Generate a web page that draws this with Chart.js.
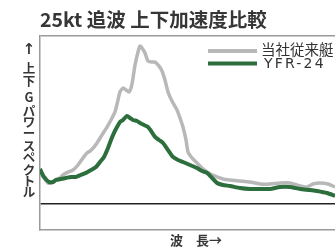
<!DOCTYPE html>
<html><head><meta charset="utf-8">
<script src="https://cdn.jsdelivr.net/npm/chart.js@4/dist/chart.umd.min.js"></script>
<style>html,body{margin:0;padding:0;background:#fff;overflow:hidden}canvas{display:block}</style>
</head><body>
<canvas id="c" width="335" height="247"></canvas>
<script>
const chartTitle = '25kt 追波 上下加速度比較';
const seriesNames = ['当社従来艇', 'YFR-24'];
const yAxisChars = ['↑', '上', '下', 'G', 'パ', 'ワ', 'ー', 'ス', 'ペ', 'ク', 'ト', 'ル'];
const xAxisLabel = '波　長→';

const grayX = [0,0.8,1.6,2.4,3.2,4.0,4.6,5.6,6.6,7.6,8.6,9.4,10.0,10.8,11.4,12.4,13.4,14.2,15.0,15.6,16.0,16.6,17.2,17.8,18.4,19.0,19.6,20.0,20.4,21.0,21.6,22.4,23.0,23.8,24.4,25.0,25.6,26.4,27.4,28.0,28.6,29.2,29.6,30.4,31.4,32.4,33.4,34.4,35.4,36.6,38.0,40.0,42.0,44.0,46.0,48.0,50.0,51.4,53.4,54.6,56.0,57.6,59.0];
const grayY = [19.0,15.5,12.5,12.5,14.3,15.5,17.3,19.0,20.2,23.2,27.4,30.4,31.5,33.9,36.3,41.1,45.8,50.0,54.8,61.9,66.7,69.0,67.9,66.7,71.4,82.7,90.5,94.0,92.9,89.9,85.1,84.5,84.5,82.1,79.2,73.8,66.7,61.3,56.0,51.2,45.8,38.1,31.0,27.4,24.4,21.4,19.0,17.3,16.1,14.9,14.3,13.7,13.1,11.9,11.9,12.5,12.5,11.3,10.1,11.9,12.5,11.9,10.1];

const greenX = [0,0.8,1.8,2.6,3.2,4.2,5.2,6.2,7.2,8.2,9.2,10.2,11.2,12.0,12.8,13.6,14.2,14.8,15.4,16.0,16.6,17.4,18.0,18.6,19.4,20.0,20.8,21.6,22.2,23.0,23.8,24.6,25.6,26.6,27.6,28.6,30.0,31.4,32.4,33.4,34.4,35.4,36.6,38.0,40.0,42.0,44.0,46.0,48.0,50.0,52.0,54.0,55.4,57.4,59.0];
const greenY = [20.8,16.1,13.1,13.1,14.3,14.9,15.5,16.1,16.1,17.3,18.5,20.2,22.0,25.0,28.0,33.3,38.1,42.3,45.8,48.8,50.0,52.4,51.2,50.0,49.4,48.2,47.0,45.8,43.5,39.9,38.1,36.3,32.1,28.0,26.2,25.0,23.2,21.4,19.6,18.5,15.5,12.5,11.3,10.7,9.5,8.9,8.9,8.9,10.1,10.1,8.9,8.3,7.7,6.5,4.8];

const toPts = (xs, ys) => xs.map((x, i) => ({x: x, y: ys[i]}));

const textPlugin = {
  id: 'texts',
  afterDraw(chart) {
    const ctx = chart.ctx;
    ctx.save();
    ctx.fillStyle = '#363636';
    ctx.textBaseline = 'middle';
    ctx.textAlign = 'left';
    ctx.font = 'bold 19.5px "Noto Sans CJK JP"';
    ctx.fillText(chartTitle, 40, 20);

    // vertical y-axis label
    ctx.textAlign = 'center';
    const ys = [50, 68, 81, 97, 111, 122, 133, 146, 157, 170, 181, 192];
    yAxisChars.forEach((ch, i) => {
      ctx.font = i === 0 ? 'bold 15px "DejaVu Sans"' : 'bold 12.5px "Noto Sans CJK JP"';
      ctx.fillText(ch, 29, ys[i]);
    });

    // x-axis label
    ctx.textAlign = 'left';
    ctx.font = 'bold 13px "Noto Sans CJK JP"';
    ctx.fillText(xAxisLabel, 170, 240);

    // legend
    const ds = chart.data.datasets;
    const rows = [[ds[0], 51], [ds[1], 63.5]];
    rows.forEach(([d, y]) => {
      ctx.strokeStyle = d.borderColor;
      ctx.lineWidth = 4;
      ctx.lineCap = 'butt';
      ctx.beginPath(); ctx.moveTo(208, y); ctx.lineTo(257, y); ctx.stroke();
    });
    ctx.fillStyle = '#333';
    ctx.font = '14.5px "Noto Sans CJK JP"';
    ctx.fillText(ds[0].label, 261, 49.5);
    ctx.font = '14px "DejaVu Sans"';
    ctx.letterSpacing = '2.2px';
    ctx.fillText(ds[1].label, 264, 64);
    ctx.restore();
  }
};

new Chart(document.getElementById('c'), {
  type: 'line',
  data: {
    datasets: [
      {label: seriesNames[0], data: toPts(grayX, grayY), borderColor: '#b8b8b8', borderWidth: 3.5, pointRadius: 0, tension: 0.2, order: 1, fill: false},
      {label: seriesNames[1], data: toPts(greenX, greenY), borderColor: '#2c6e3c', borderWidth: 4, pointRadius: 0, tension: 0.2, order: 0, fill: false}
    ]
  },
  options: {
    responsive: false,
    animation: false,
    devicePixelRatio: 1,
    layout: {padding: {left: 40, right: 0, top: 36, bottom: 17}},
    plugins: {legend: {display: false}, tooltip: {enabled: false}, title: {display: false}},
    scales: {
      x: {type: 'linear', min: 0, max: 59,
          ticks: {display: false}, grid: {display: false, drawTicks: false},
          border: {display: true, color: '#9a9a9a', width: 1.5}},
      y: {type: 'linear', min: -15.5, max: 100,
          afterBuildTicks: (s) => { s.ticks = [{value: 0}, {value: 100}]; },
          ticks: {display: false},
          grid: {drawTicks: false, lineWidth: 1.5,
                 color: (c) => c.tick && c.tick.value === 0 ? '#222' : '#9a9a9a'},
          border: {display: true, color: '#9a9a9a', width: 1.5}}
    }
  },
  plugins: [textPlugin]
});
</script>
</body></html>
